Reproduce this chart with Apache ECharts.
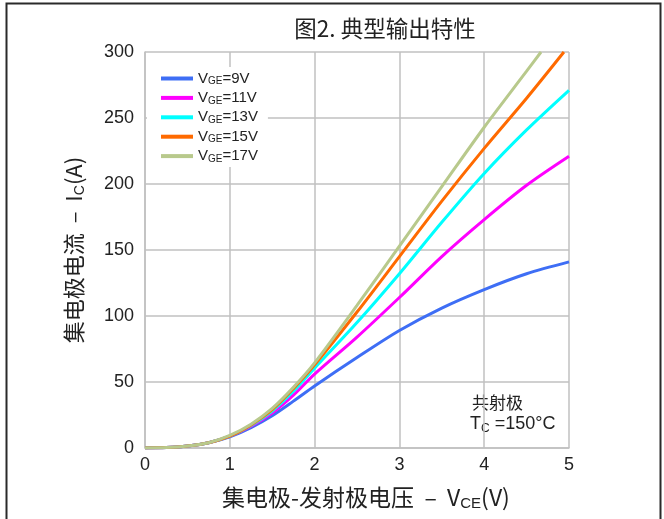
<!DOCTYPE html>
<html>
<head>
<meta charset="utf-8">
<script src="https://cdn.jsdelivr.net/npm/echarts@6/dist/echarts.min.js"></script>
<style>
  html, body { margin: 0; padding: 0; background: #fff; }
  #chart { width: 664px; height: 519px; }
</style>
</head>
<body>
<div id="chart"></div>
<script>
// Typical output characteristics: collector current vs collector-emitter voltage
const vce = [0, 0.25, 0.5, 0.75, 1.0, 1.25, 1.5, 1.75, 2.0, 2.5, 3.0, 3.5, 4.0, 4.5, 5.0];

const ic9V  = [0, 0.3, 1.5, 4, 8.5, 15.5, 24.5, 35.5, 47, 68.5, 89, 106, 120, 132, 141];
const ic11V = [0, 0.3, 1.5, 4, 9, 16.5, 26.5, 40, 56, 84, 114, 145, 173, 199, 221];
const ic13V = [0, 0.3, 1.5, 4, 9, 17, 28, 43, 60.5, 95, 132, 171, 208, 241, 271];
const ic15V = [0, 0.3, 1.5, 4, 9, 17.5, 29, 45, 63, 103, 145, 187, 227, 265, 300];
const ic17V = [0, 0.3, 1.5, 4, 9.5, 18, 30, 46, 64.5, 108, 153, 198, 243, 285.5, 300];
// the two steepest curves reach the 300 A limit before 5 V
const vceEnd15 = 4.94;
const vceEnd17 = 4.67;

const gateVoltages = ['9V', '11V', '13V', '15V', '17V'];
const colors = ['#3e6ef5', '#ff00ff', '#00ffff', '#ff6a00', '#b8c98c'];

const xTicks = [0, 1, 2, 3, 4, 5];
const yTicks = [0, 50, 100, 150, 200, 250, 300];

function pairs(ys, lastX) {
  return ys.map((y, i) => [i === ys.length - 1 && lastX != null ? lastX : vce[i], y]);
}
const curves = [
  pairs(ic9V),
  pairs(ic11V),
  pairs(ic13V),
  pairs(ic15V, vceEnd15),
  pairs(ic17V, vceEnd17)
];

const FONT = '"Liberation Sans", Arial, "Noto Sans CJK SC", sans-serif';
const CJK = '"Noto Sans CJK SC", "Liberation Sans", sans-serif';

const chart = echarts.init(document.getElementById('chart'), null, { renderer: 'canvas' });

const series = gateVoltages.map((g, i) => ({
  name: 'VGE=' + g,
  type: 'line',
  data: curves[i],
  smooth: 0.3,
  symbol: 'none',
  clip: true,
  lineStyle: { color: colors[i], width: 3 },
  itemStyle: { color: colors[i] },
  z: 3 + i
}));

chart.setOption({
  animation: false,
  backgroundColor: '#fff',
  title: {
    text: '图2. 典型输出特性',
    left: 380,
    top: 12,
    textAlign: 'center',
    textStyle: { fontFamily: CJK, fontSize: 22.5, fontWeight: 'normal', color: '#222' }
  },
  grid: { left: 145, right: 95, top: 52, bottom: 71 },
  legend: {
    left: 147,
    top: 67,
    orient: 'vertical',
    padding: [4, 10, 3, 14],
    backgroundColor: '#fff',
    itemWidth: 32,
    itemHeight: 4,
    itemGap: 3.9,
    icon: 'rect',
    z: 10,
    formatter: function (name) {
      return '{v|V}{s|GE}{v|' + name.slice(3) + '}';
    },
    textStyle: {
      color: '#222',
      rich: {
        v: { fontFamily: FONT, fontSize: 15, lineHeight: 16, color: '#222' },
        s: { fontFamily: FONT, fontSize: 10, lineHeight: 16, color: '#222', verticalAlign: 'bottom', padding: [5, 0, 0, 0] }
      }
    },
    data: series.map(s => s.name)
  },
  xAxis: {
    type: 'value',
    min: xTicks[0],
    max: xTicks[xTicks.length - 1],
    interval: 1,
    axisLine: { show: true, lineStyle: { color: '#c0c0c0', width: 1.5 } },
    axisTick: { show: false },
    splitLine: { show: true, lineStyle: { color: '#c0c0c0', width: 1.5 } },
    axisLabel: { color: '#222', fontFamily: FONT, fontSize: 18, margin: 8 },
    name: '{n|集电极-发射极电压  –  V}{s|CE}{n|(V)}',
    nameLocation: 'middle',
    nameGap: 35,
    nameTextStyle: {
      padding: [0, 0, 0, 18],
      rich: {
        n: { fontFamily: CJK, fontSize: 23, color: '#222', lineHeight: 28 },
        s: { fontFamily: FONT, fontSize: 15, color: '#222', lineHeight: 28, verticalAlign: 'bottom', padding: [8, 0, 0, 0] }
      }
    }
  },
  yAxis: {
    type: 'value',
    min: yTicks[0],
    max: yTicks[yTicks.length - 1],
    interval: 50,
    axisLine: { show: true, lineStyle: { color: '#c0c0c0', width: 1.5 } },
    axisTick: { show: false },
    splitLine: { show: true, lineStyle: { color: '#c0c0c0', width: 1.5 } },
    axisLabel: { color: '#222', fontFamily: FONT, fontSize: 18, margin: 11 },
    name: '{n|集电极电流  –  I}{s|C}{n|(A)}',
    nameLocation: 'middle',
    nameGap: 58,
    nameRotate: 90,
    nameTextStyle: {
      rich: {
        n: { fontFamily: CJK, fontSize: 22, color: '#222', lineHeight: 26 },
        s: { fontFamily: FONT, fontSize: 14, color: '#222', lineHeight: 26, verticalAlign: 'bottom', padding: [8, 0, 0, 0] }
      }
    }
  },
  series: series,
  graphic: [
    {
      type: 'rect',
      shape: { x: 6.5, y: 3.5, width: 654, height: 540 },
      style: { fill: null, stroke: '#2a2a2a', lineWidth: 2 },
      silent: true,
      z: 100
    },
    {
      type: 'group',
      z: 20,
      children: [
        {
          type: 'rect',
          shape: { x: 465, y: 384, width: 94, height: 58 },
          style: { fill: '#fff' }
        },
        {
          type: 'text',
          x: 472,
          y: 403,
          style: {
            text: '共射极',
            font: '17px ' + CJK,
            fill: '#222',
            textVerticalAlign: 'middle'
          }
        },
        {
          type: 'text',
          x: 470,
          y: 424,
          style: {
            text: '{t|T}{s|C}{t| =150°C}',
            textVerticalAlign: 'middle',
            rich: {
              t: { fontFamily: FONT, fontSize: 18, fill: '#222', color: '#222', lineHeight: 22 },
              s: { fontFamily: FONT, fontSize: 12, fill: '#222', color: '#222', lineHeight: 22, verticalAlign: 'bottom', padding: [6, 0, 0, 0] }
            }
          }
        }
      ]
    }
  ]
});
</script>
</body>
</html>
